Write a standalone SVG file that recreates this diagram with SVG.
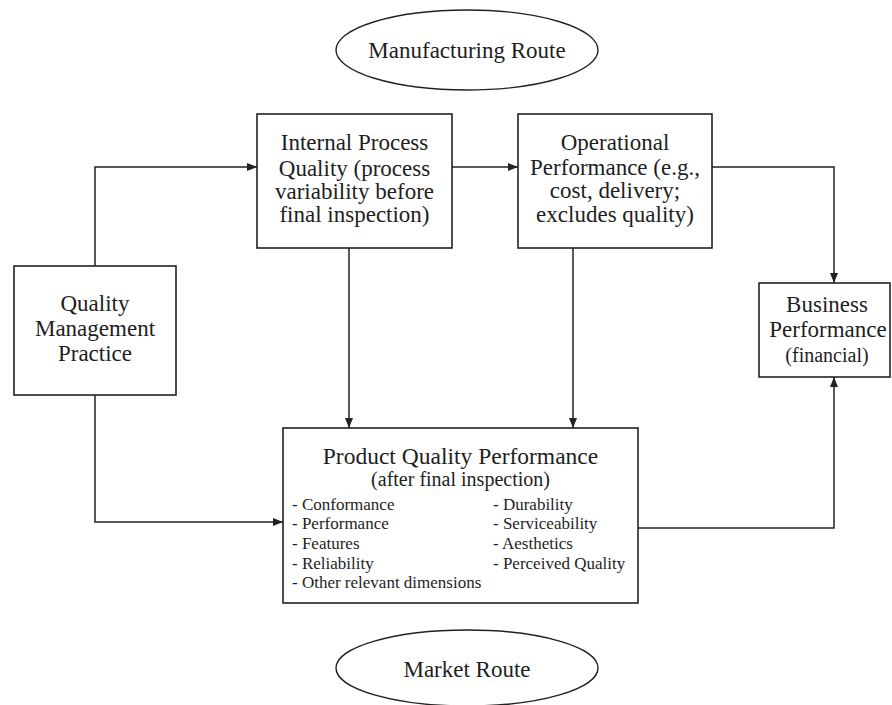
<svg xmlns="http://www.w3.org/2000/svg" width="892" height="705" viewBox="0 0 892 705">
  <style>
    .box { fill: #ffffff; stroke: #222222; stroke-width: 1.6; }
    .oval { fill: #ffffff; stroke: #222222; stroke-width: 1.4; }
    .lbl { font-family: "Liberation Serif", "Times New Roman", serif; fill: #1e1e1e; text-anchor: middle; font-size: 23px; }
    .sm { font-size: 20px; }
    .item { font-family: "Liberation Serif", "Times New Roman", serif; fill: #1e1e1e; font-size: 17px; }
    .wire { fill: none; stroke: #222222; stroke-width: 1.5; marker-end: url(#tip); }
  </style>
  <defs>
    <marker id="tip" viewBox="0 0 10 8" refX="10" refY="4" markerWidth="10" markerHeight="8" markerUnits="userSpaceOnUse" orient="auto">
      <path d="M0,0 L10,4 L0,8 Z" fill="#222222"/>
    </marker>
  </defs>
  <rect width="892" height="705" fill="#ffffff"/>

  <!-- connectors -->
  <g id="connectors">
    <path class="wire" d="M95,266 V167 H257"/>
    <path class="wire" d="M95,395 V522 H283"/>
    <path class="wire" d="M452,167 H518"/>
    <path class="wire" d="M349,248 V428"/>
    <path class="wire" d="M573,248 V428"/>
    <path class="wire" d="M712,167 H834 V283"/>
    <path class="wire" d="M638,528 H834 V377"/>
  </g>

  <g id="manufacturing-route">
    <ellipse class="oval" cx="467" cy="50" rx="131" ry="40"/>
    <text class="lbl" x="467" y="58">Manufacturing Route</text>
  </g>

  <g id="internal-process-quality">
    <rect class="box" x="257" y="114" width="195" height="134"/>
    <text class="lbl" x="354.5" y="150">Internal Process</text>
    <text class="lbl" x="354.5" y="176">Quality (process</text>
    <text class="lbl" x="354.5" y="199">variability before</text>
    <text class="lbl" x="354.5" y="222">final inspection)</text>
  </g>

  <g id="operational-performance">
    <rect class="box" x="518" y="114" width="194" height="134"/>
    <text class="lbl" x="615" y="150">Operational</text>
    <text class="lbl" x="615" y="175">Performance (e.g.,</text>
    <text class="lbl" x="615" y="198">cost, delivery;</text>
    <text class="lbl" x="615" y="222">excludes quality)</text>
  </g>

  <g id="quality-management-practice">
    <rect class="box" x="14" y="266" width="162" height="129"/>
    <text class="lbl" x="95" y="311">Quality</text>
    <text class="lbl" x="95" y="336">Management</text>
    <text class="lbl" x="95" y="361">Practice</text>
  </g>

  <g id="business-performance">
    <rect class="box" x="759" y="283" width="131" height="94"/>
    <text class="lbl" x="827" y="312">Business</text>
    <text class="lbl" x="828" y="337">Performance</text>
    <text class="lbl sm" x="827" y="362">(financial)</text>
  </g>

  <g id="product-quality-performance">
    <rect class="box" x="283" y="428" width="355" height="175"/>
    <text class="lbl" x="460.5" y="464" style="font-size:23.5px">Product Quality Performance</text>
    <text class="lbl sm" x="460.5" y="486">(after final inspection)</text>
    <text class="item" x="292" y="510">- Conformance</text>
    <text class="item" x="292" y="529">- Performance</text>
    <text class="item" x="292" y="549">- Features</text>
    <text class="item" x="292" y="569">- Reliability</text>
    <text class="item" x="292" y="588">- Other relevant dimensions</text>
    <text class="item" x="493" y="510">- Durability</text>
    <text class="item" x="493" y="529">- Serviceability</text>
    <text class="item" x="493" y="549">- Aesthetics</text>
    <text class="item" x="493" y="569">- Perceived Quality</text>
  </g>

  <g id="market-route">
    <ellipse class="oval" cx="467" cy="668" rx="131" ry="38"/>
    <text class="lbl" x="467" y="677">Market Route</text>
  </g>
</svg>
